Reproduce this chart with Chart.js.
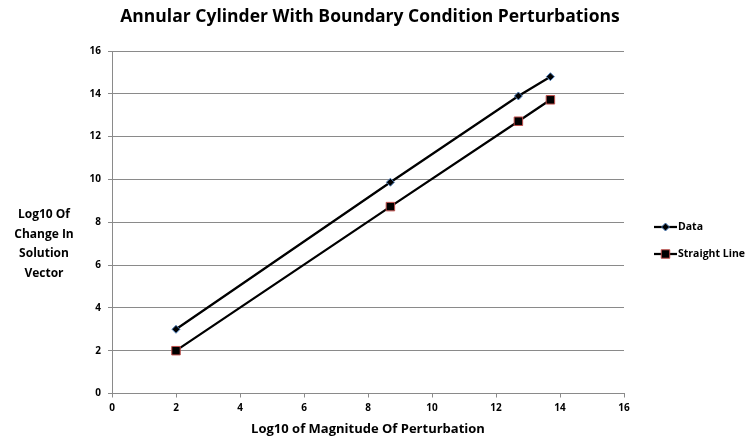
<!DOCTYPE html>
<html>
<head>
<meta charset="utf-8">
<script src="https://cdn.jsdelivr.net/npm/chart.js@4"></script>
<style>
  html, body { margin: 0; padding: 0; background: #ffffff; }
  #wrap { width: 749px; height: 439px; position: relative; }
</style>
</head>
<body>
<div id="wrap"><canvas id="c" width="749" height="439"></canvas></div>
<script>
// ---- Data ----
const chartTitle = "Annular Cylinder With Boundary Condition Perturbations";
const xAxisTitle = "Log10 of Magnitude Of Perturbation";
const yAxisTitleLines = ["Log10 Of", "Change In", "Solution", "Vector"];
const seriesNames = ["Data", "Straight Line"];
const xValues = [2, 8.7, 12.7, 13.7];
const dataValues = [3, 9.87, 13.9, 14.8];
const straightValues = [2, 8.73, 12.72, 13.72];
const axisMin = 0;
const axisMax = 16;
const axisStep = 2;

const FONT = "'Open Sans', 'Liberation Sans', sans-serif";
const GRID = "#8a8a8a";
const BLUE = "#4f81bd";
const RED = "#c0504d";

function toPoints(xs, ys) { return xs.map((x, i) => ({ x: x, y: ys[i] })); }

const markerStyles = [
  { pointStyle: 'rectRot', radius: 4, border: BLUE },
  { pointStyle: 'rect', radius: 6, border: RED }
];

const customDraw = {
  id: 'customDraw',
  afterDraw(chart) {
    const ctx = chart.ctx;
    ctx.save();
    ctx.fillStyle = '#000';
    ctx.textBaseline = 'middle';
    // chart title
    ctx.font = "bold 17.5px " + FONT;
    ctx.textAlign = 'center';
    ctx.fillText(chartTitle, 370, 17);
    // vertical axis title, horizontal multiline
    ctx.font = "bold 12px " + FONT;
    const yLineStart = 215, yLineGap = 19.5;
    yAxisTitleLines.forEach((t, i) => ctx.fillText(t, 44, yLineStart + i * yLineGap));
    // legend
    const legendX = 654, legendY = [227, 254];
    ctx.font = "bold 10.5px " + FONT;
    ctx.textAlign = 'left';
    seriesNames.forEach((name, i) => {
      const y = legendY[i];
      ctx.strokeStyle = '#000';
      ctx.lineWidth = 2.25;
      ctx.beginPath();
      ctx.moveTo(legendX, y);
      ctx.lineTo(legendX + 23, y);
      ctx.stroke();
      const m = markerStyles[i];
      ctx.fillStyle = '#000';
      ctx.strokeStyle = m.border;
      ctx.lineWidth = 1;
      Chart.helpers.drawPoint(ctx, { pointStyle: m.pointStyle, radius: m.radius, rotation: 0, borderWidth: 1 }, legendX + 11.5, y);
      ctx.fillStyle = '#000';
      ctx.fillText(name, legendX + 24, y + 0.5);
    });
    ctx.restore();
  }
};

new Chart(document.getElementById('c'), {
  type: 'scatter',
  data: {
    datasets: [
      {
        label: seriesNames[0],
        data: toPoints(xValues, dataValues),
        showLine: true,
        borderColor: '#000',
        borderWidth: 2.25,
        pointStyle: markerStyles[0].pointStyle,
        pointRadius: markerStyles[0].radius,
        pointBackgroundColor: '#000',
        pointBorderColor: BLUE,
        pointBorderWidth: 1
      },
      {
        label: seriesNames[1],
        data: toPoints(xValues, straightValues),
        showLine: true,
        borderColor: '#000',
        borderWidth: 2.25,
        pointStyle: markerStyles[1].pointStyle,
        pointRadius: markerStyles[1].radius,
        pointBackgroundColor: '#000',
        pointBorderColor: RED,
        pointBorderWidth: 1
      }
    ]
  },
  options: {
    responsive: false,
    animation: false,
    devicePixelRatio: 1,
    layout: { padding: { left: 0, right: 125, top: 51, bottom: 0 } },
    plugins: {
      legend: { display: false },
      tooltip: { enabled: false },
      title: { display: false }
    },
    scales: {
      x: {
        type: 'linear',
        min: axisMin, max: axisMax,
        afterFit(scale) { scale.height = 45.5; },
        ticks: { stepSize: axisStep, color: '#000', font: { family: FONT, size: 10, weight: 'bold' }, padding: 5, maxRotation: 0 },
        grid: { drawOnChartArea: false, drawTicks: true, tickLength: 4, color: GRID },
        border: { display: true, color: GRID, width: 1 },
        title: { display: true, text: xAxisTitle, color: '#000', font: { family: FONT, size: 13, weight: 'bold' }, padding: { top: 2, bottom: 2 } }
      },
      y: {
        type: 'linear',
        min: axisMin, max: axisMax,
        afterFit(scale) { scale.width = 112; },
        ticks: { stepSize: axisStep, color: '#000', font: { family: FONT, size: 10, weight: 'bold' }, padding: 7 },
        grid: { drawOnChartArea: true, drawTicks: true, tickLength: 4, color: GRID },
        border: { display: true, color: GRID, width: 1 }
      }
    }
  },
  plugins: [customDraw]
});
</script>
</body>
</html>
